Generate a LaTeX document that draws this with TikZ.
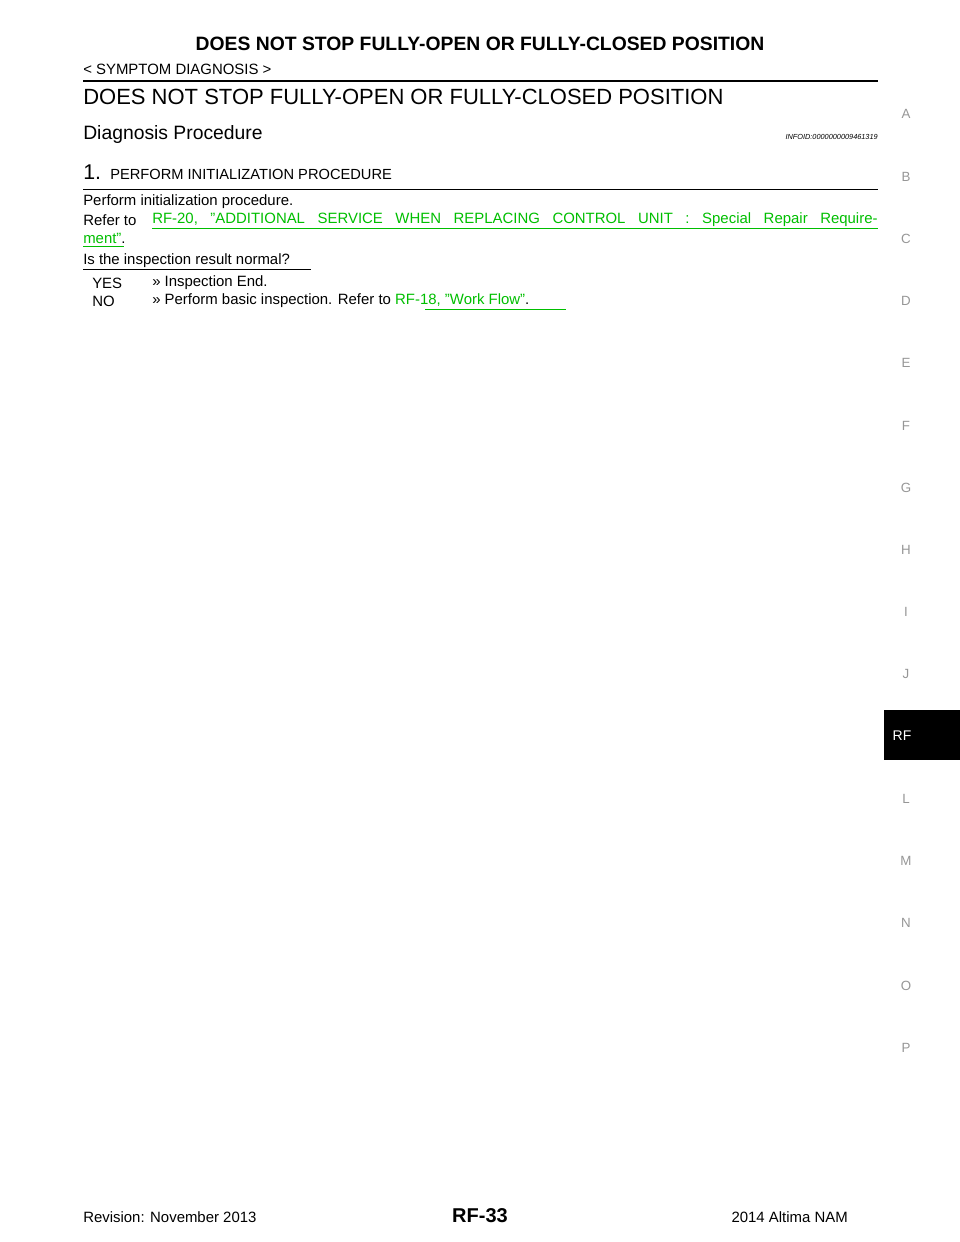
\documentclass[tikz,border=0pt]{standalone}
\usepackage{fontspec}
\setmainfont{Liberation Sans}
\definecolor{lnk}{RGB}{0,190,0}
\definecolor{side}{RGB}{150,150,150}
\begin{document}
\begin{tikzpicture}[x=0.75pt,y=-0.75pt,
  t/.style={anchor=west,inner sep=0pt},
  body/.style={t,font=\fontsize{11.2}{13}\selectfont},
  sl/.style={inner sep=0pt,text=side,font=\fontsize{10}{12}\selectfont}]
\useasboundingbox (0,0) rectangle (960,1242);
\node[inner sep=0pt,font=\bfseries\fontsize{14.5}{17}\selectfont] (title) at (480,44) {DOES NOT STOP FULLY-OPEN OR FULLY-CLOSED POSITION};
\node[body] (sec) at (83,69) {< SYMPTOM DIAGNOSIS >};
\draw[line width=1.6pt] (83,81) -- (878,81);
\node[t,font=\fontsize{16.5}{19}\selectfont] (h1) at (83,97) {DOES NOT STOP FULLY-OPEN OR FULLY-CLOSED POSITION};
\node[t,font=\fontsize{14.5}{17}\selectfont] (h2) at (83,134) {Diagnosis Procedure};
\node[anchor=east,inner sep=0pt,font=\itshape\fontsize{5.5}{7}\selectfont] (info) at (878,137) {INFOID:0000000009461319};
\node[t,font=\fontsize{16}{19}\selectfont] (n1) at (83,172) {1.};
\node[t,font=\fontsize{11}{13}\selectfont] (s1) at (110,174) {PERFORM INITIALIZATION PROCEDURE};
\draw[line width=0.6pt] (83,189) -- (878,189);
\node[body] (p1) at (83,202) {Perform initialization procedure.};
\node[body] (p2) at (83,220) {Refer to};
\node[body,text=lnk] (l1) at (152,220) {\hbox to 544pt{RF-20,\hfil "ADDITIONAL\hfil SERVICE\hfil WHEN\hfil REPLACING\hfil CONTROL\hfil UNIT\hfil :\hfil Special\hfil Repair\hfil Require-}};
\draw[lnk,line width=0.6pt] (152,228) -- (878,228);
\node[body] (l2) at (83,238) {\textcolor{lnk}{ment"}.};
\draw[lnk,line width=0.6pt] (83,246) -- (124,246);
\node[body] (q) at (83,261) {Is the inspection result normal?};
\draw[line width=0.6pt] (83,269) -- (311,269);
\node[body] (yes) at (92,283) {YES};
\node[body] (yes2) at (152,283) {>> Inspection End.};
\node[body] (no) at (92,301) {NO};
\node[body] (no2) at (152,301) {>> Perform basic inspection. Refer to \textcolor{lnk}{RF-18, "Work Flow"}.};
\draw[lnk,line width=0.6pt] (425,309) -- (566,309);
\foreach \l/\y in {A/114,B/177,C/239,D/301,E/363,F/426,G/488,H/550,I/612,J/674,L/799,M/861,N/923,O/986,P/1048}
  \node[sl] (side\l) at (906,\y) {\l};
\fill[black] (884,710) rectangle (960,760);
\node[inner sep=0pt,text=white,font=\fontsize{10.5}{12}\selectfont] (rf) at (902,736) {RF};
\node[body] (rev) at (83,1217) {Revision: November 2013};
\node[inner sep=0pt,font=\bfseries\fontsize{15}{17}\selectfont] (pg) at (480,1216) {RF-33};
\node[anchor=east,inner sep=0pt,font=\fontsize{11.2}{13}\selectfont] (mdl) at (848,1217) {2014 Altima NAM};
\end{tikzpicture}
\end{document}
